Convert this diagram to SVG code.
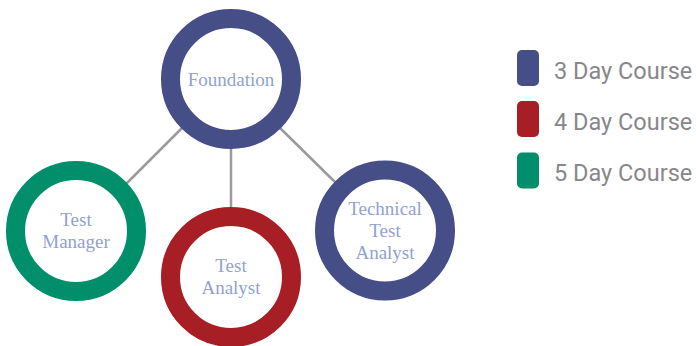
<svg xmlns="http://www.w3.org/2000/svg" width="696" height="346" viewBox="0 0 696 346">
<style>
.ring{fill:#fff;stroke-width:19}
.blue{stroke:#454e87}
.red{stroke:#a71e24}
.green{stroke:#008f6a}
.lbl{font-family:"Liberation Serif","Times New Roman",serif;font-size:19px;fill:#90a2d2;text-anchor:middle}
.leg{font-family:Roboto,"Liberation Sans",sans-serif;font-size:23.5px;fill:#87878b}
.conn line{stroke:#9a9a9e;stroke-width:2.5}
</style>
<rect width="696" height="346" fill="#fff"/>
<g class="conn" id="connectors">
<line x1="183" y1="127" x2="124" y2="186"/>
<line x1="231" y1="148" x2="231" y2="208"/>
<line x1="279" y1="127" x2="338" y2="185"/>
</g>
<g id="foundation">
<circle class="ring blue" cx="231" cy="79" r="60.5"/>
<text class="lbl" x="231" y="86">Foundation</text>
</g>
<g id="test-manager">
<circle class="ring green" cx="76" cy="231" r="60.5"/>
<text class="lbl" x="76" y="226">Test</text>
<text class="lbl" x="76" y="248">Manager</text>
</g>
<g id="test-analyst">
<circle class="ring red" cx="231" cy="277" r="60.5"/>
<text class="lbl" x="231" y="272">Test</text>
<text class="lbl" x="231" y="294">Analyst</text>
</g>
<g id="technical-test-analyst">
<circle class="ring blue" cx="385" cy="230.5" r="60.5"/>
<text class="lbl" x="385" y="215">Technical</text>
<text class="lbl" x="385" y="237">Test</text>
<text class="lbl" x="385" y="259">Analyst</text>
</g>
<g id="legend">
<rect x="517" y="50" width="22" height="36" rx="5" fill="#454e87"/>
<text class="leg" x="554" y="78.5">3 Day Course</text>
<rect x="517" y="101" width="22" height="36" rx="5" fill="#a71e24"/>
<text class="leg" x="554" y="129.5">4 Day Course</text>
<rect x="517" y="152.5" width="22" height="36" rx="5" fill="#008f6a"/>
<text class="leg" x="554" y="181">5 Day Course</text>
</g>
</svg>
